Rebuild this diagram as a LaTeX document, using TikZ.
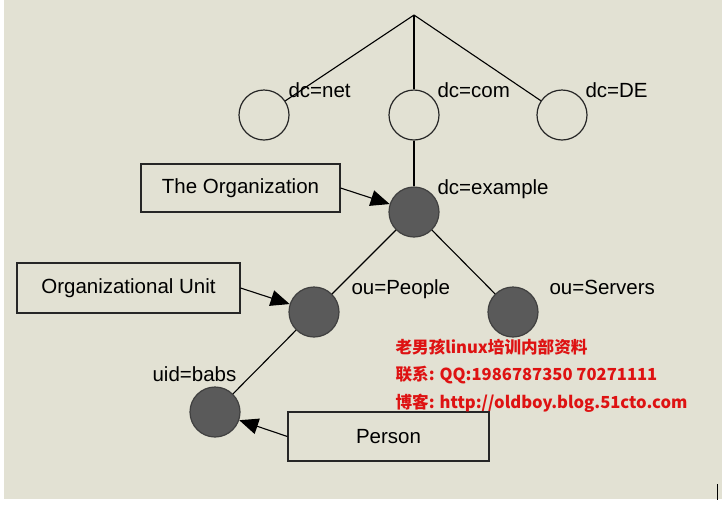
\documentclass[tikz,border=0pt]{standalone}
\usepackage{fontspec}
\setmainfont{Liberation Sans}
\newfontfamily\cjk{Noto Sans CJK SC}
\usetikzlibrary{arrows.meta}
\definecolor{bg}{RGB}{226,225,211}
\definecolor{nodefill}{RGB}{90,90,90}
\definecolor{wred}{RGB}{222,18,18}
\begin{document}
\begin{tikzpicture}[x=1pt,y=-1pt,
  line width=1.1pt,
  every node/.style={font=\fontsize{20.5}{24}\selectfont},
  ring/.style={circle,draw=black!85,minimum size=50pt,inner sep=0pt,line width=1.2pt},
  dark/.style={ring,fill=nodefill,draw=black!75},
  lbl/.style={anchor=base west,inner sep=0pt},
  box/.style={draw=black!85,line width=1.2pt,rectangle,inner sep=0pt},
  arr/.style={-{Triangle[length=19pt,width=16pt]},line width=1.1pt},
  wm/.style={anchor=base west,inner sep=0pt,text=wred,font=\cjk\bfseries\fontsize{16.6}{20}\selectfont}]
\useasboundingbox (0,0) rectangle (722,504);
\fill[white] (0,0) rectangle (722,504);
\fill[bg] (4,0) rectangle (722,499);

\coordinate (apex) at (414,15);
\node[ring] (net) at (264,115) {};
\node[ring] (com) at (414,115) {};
\node[ring] (de)  at (562,115) {};
\node[dark] (dcex) at (414,212) {};
\node[dark] (people) at (314,312) {};
\node[dark] (servers) at (513,312) {};
\node[dark] (babs) at (215,412) {};

\draw (apex) -- (net);
\draw (apex) -- (com);
\draw (apex) -- (de);
\draw (com) -- (dcex);
\draw (dcex) -- (people);
\draw (dcex) -- (servers);
\draw (people) -- (babs);

\node[lbl] (lnet) at (288,97) {dc=net};
\node[lbl] (lcom) at (437,97) {dc=com};
\node[lbl] (lde) at (585,97) {dc=DE};
\node[lbl] (lex) at (437,194) {dc=example};
\node[lbl] (lpe) at (351,294) {ou=People};
\node[lbl] (lse) at (549,294) {ou=Servers};
\node[lbl] (lba) at (152,381) {uid=babs};

\node[box,minimum width=199pt,minimum height=48pt] (org) at (240.5,188) {The Organization};
\node[box,minimum width=223pt,minimum height=50pt] (ou) at (128.5,288) {Organizational Unit};
\node[box,minimum width=201pt,minimum height=49pt] (person) at (388.5,436.5) {Person};

\draw[arr] (org.east) -- (dcex);
\draw[arr] (ou.east) -- (people);
\draw[arr] (person.west) -- (babs);

\node[wm] (w1) at (395,353) {老男孩linux培训内部资料};
\node[wm] (w2) at (395,380) {联系: QQ:1986787350 70271111};
\node[wm] (w3) at (395,408) {博客: http://oldboy.blog.51cto.com};

\draw[line width=1pt] (717,484) -- (717,500);
\end{tikzpicture}
\end{document}
